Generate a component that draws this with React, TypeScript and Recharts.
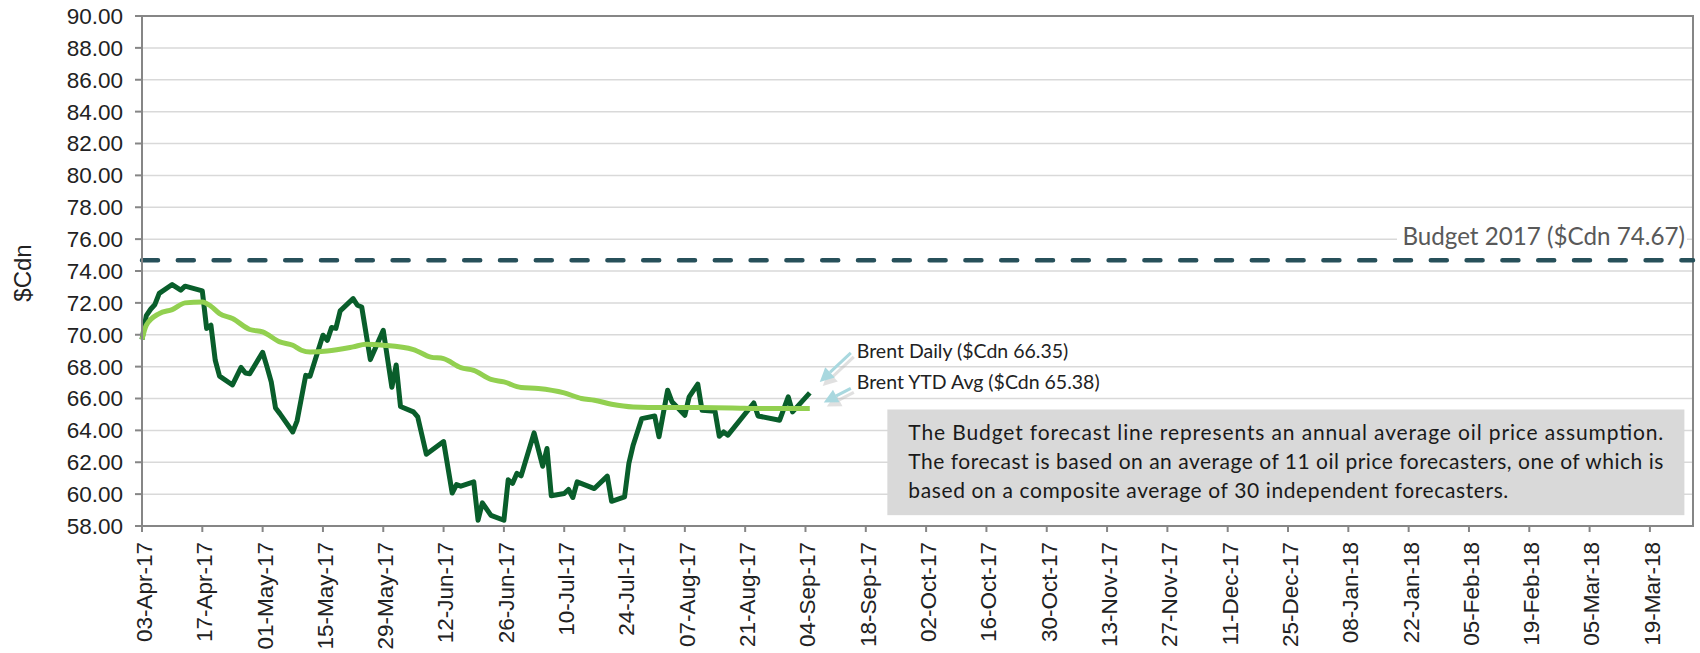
import React from "react";
import {
  LineChart,
  Line,
  XAxis,
  YAxis,
  CartesianGrid,
  ReferenceLine,
  ReferenceArea,
  ReferenceDot,
} from "recharts";

// Brent daily price ($Cdn), business days
const dailyDates = [
  "2017-04-03", "2017-04-04", "2017-04-05", "2017-04-06", "2017-04-07", "2017-04-10",
  "2017-04-12", "2017-04-13", "2017-04-17", "2017-04-18", "2017-04-19", "2017-04-20",
  "2017-04-21", "2017-04-24", "2017-04-26", "2017-04-27", "2017-04-28", "2017-05-01",
  "2017-05-02", "2017-05-03", "2017-05-04", "2017-05-05", "2017-05-08", "2017-05-09",
  "2017-05-11", "2017-05-12", "2017-05-15", "2017-05-16", "2017-05-17", "2017-05-18",
  "2017-05-19", "2017-05-22", "2017-05-23", "2017-05-24", "2017-05-26", "2017-05-29",
  "2017-05-31", "2017-06-01", "2017-06-02", "2017-06-05", "2017-06-06", "2017-06-08",
  "2017-06-12", "2017-06-14", "2017-06-15", "2017-06-16", "2017-06-19", "2017-06-20",
  "2017-06-21", "2017-06-23", "2017-06-26", "2017-06-27", "2017-06-28", "2017-06-29",
  "2017-06-30", "2017-07-03", "2017-07-05", "2017-07-06", "2017-07-07", "2017-07-10",
  "2017-07-11", "2017-07-12", "2017-07-13", "2017-07-17", "2017-07-20", "2017-07-21",
  "2017-07-24", "2017-07-25", "2017-07-26", "2017-07-28", "2017-07-31", "2017-08-01",
  "2017-08-03", "2017-08-04", "2017-08-07", "2017-08-08", "2017-08-10", "2017-08-11",
  "2017-08-14", "2017-08-15", "2017-08-16", "2017-08-17", "2017-08-23", "2017-08-24",
  "2017-08-29", "2017-08-31", "2017-09-01", "2017-09-05",
];
const dailyValues = [
  69.7, 71.2, 71.6, 71.9, 72.6, 73.15,
  72.8, 73.05, 72.75, 70.4, 70.6, 68.4,
  67.4, 66.85, 67.95, 67.6, 67.55, 68.9,
  68.0, 67.04, 65.4, 65.05, 63.9, 64.6,
  67.45, 67.4, 69.97, 69.65, 70.45, 70.4,
  71.5, 72.27, 71.85, 71.74, 68.44, 70.28,
  66.7, 68.1, 65.5, 65.16, 64.84, 62.5,
  63.3, 60.07, 60.6, 60.5, 60.77, 58.36,
  59.45, 58.67, 58.36, 60.9, 60.67, 61.3,
  61.15, 63.84, 61.75, 62.86, 59.9, 60.04,
  60.29, 59.79, 60.77, 60.35, 61.13, 59.55,
  59.82, 61.92, 63.07, 64.74, 64.9, 63.6,
  66.52, 65.8, 64.95, 66.1, 66.9, 65.26,
  65.2, 63.63, 63.9, 63.7, 65.72, 64.9,
  64.64, 66.1, 65.16, 66.35,
];

// Brent year-to-date average ($Cdn)
const ytdDates = [
  "2017-04-03", "2017-04-04", "2017-04-07", "2017-04-10", "2017-04-13", "2017-04-17",
  "2017-04-19", "2017-04-21", "2017-04-24", "2017-04-28", "2017-05-01", "2017-05-05",
  "2017-05-08", "2017-05-10", "2017-05-12", "2017-05-16", "2017-05-22", "2017-05-25",
  "2017-05-29", "2017-06-05", "2017-06-09", "2017-06-12", "2017-06-16", "2017-06-19",
  "2017-06-23", "2017-06-26", "2017-06-30", "2017-07-04", "2017-07-10", "2017-07-14",
  "2017-07-17", "2017-07-21", "2017-07-26", "2017-08-02", "2017-08-10", "2017-08-18",
  "2017-08-25", "2017-09-05",
];
const ytdValues = [
  69.7, 70.6, 71.33, 71.58, 72.0, 72.06,
  71.79, 71.33, 71.02, 70.33, 70.18, 69.55,
  69.34, 69.03, 68.92, 68.98, 69.24, 69.4,
  69.34, 69.07, 68.6, 68.5, 67.94, 67.77,
  67.2, 67.04, 66.69, 66.63, 66.35, 66.0,
  65.89, 65.64, 65.47, 65.43, 65.43, 65.41,
  65.37, 65.38,
];

const xTickLabels = [
  "03-Apr-17", "17-Apr-17", "01-May-17", "15-May-17", "29-May-17", "12-Jun-17",
  "26-Jun-17", "10-Jul-17", "24-Jul-17", "07-Aug-17", "21-Aug-17", "04-Sep-17",
  "18-Sep-17", "02-Oct-17", "16-Oct-17", "30-Oct-17", "13-Nov-17", "27-Nov-17",
  "11-Dec-17", "25-Dec-17", "08-Jan-18", "22-Jan-18", "05-Feb-18", "19-Feb-18",
  "05-Mar-18", "19-Mar-18",
];
const yTicks = [58, 60, 62, 64, 66, 68, 70, 72, 74, 76, 78, 80, 82, 84, 86, 88, 90];

const axisStart = "2017-04-03";
const axisEnd = "2018-03-29";
const budget2017 = 74.67;

const noteLines = [
  "The Budget forecast line represents an annual average oil price assumption.",
  "The forecast is based on an average of 11 oil price forecasters, one of which is",
  "based on a composite average of 30 independent forecasters.",
];
const noteLineWidths = [755, 755, 600];
const noteBox = { from: "2017-09-23", to: "2018-03-27", low: 58.68, high: 65.31 };

const MONTHS = ["Jan", "Feb", "Mar", "Apr", "May", "Jun", "Jul", "Aug", "Sep", "Oct", "Nov", "Dec"];
const DAY_MS = 86400000;

function isoToUtc(s: string) {
  const [y, m, d] = s.split("-").map(Number);
  return Date.UTC(y, m - 1, d);
}
const START = isoToUtc(axisStart);
const dayOf = (s: string) => Math.round((isoToUtc(s) - START) / DAY_MS);
const labelDay = (s: string) => {
  const [d, mon, y] = s.split("-");
  return Math.round((Date.UTC(2000 + Number(y), MONTHS.indexOf(mon), Number(d)) - START) / DAY_MS);
};

const rowMap = new Map<number, { day: number; daily?: number; ytd?: number }>();
dailyDates.forEach((d, i) => {
  const k = dayOf(d);
  rowMap.set(k, { ...(rowMap.get(k) || { day: k }), daily: dailyValues[i] });
});
ytdDates.forEach((d, i) => {
  const k = dayOf(d);
  rowMap.set(k, { ...(rowMap.get(k) || { day: k }), ytd: ytdValues[i] });
});
const rows = Array.from(rowMap.values()).sort((a, b) => a.day - b.day);

const xTicks = xTickLabels.map(labelDay);
const tickNameByDay = new Map(xTicks.map((d, i) => [d, xTickLabels[i]]));

const lastDaily = dailyValues[dailyValues.length - 1];
const lastDailyDay = dayOf(dailyDates[dailyDates.length - 1]);
const lastYtd = ytdValues[ytdValues.length - 1];
const lastYtdDay = dayOf(ytdDates[ytdDates.length - 1]);

const AXIS = "#868686";
const GRID = "#d9d9d9";
const DARK = "#095e2b";
const LIGHT = "#92d050";
const ARROW = "#a9d8df";
const LABEL_FONT = "Lato, 'Open Sans', sans-serif";

function XTick(props: any) {
  const { x, y, payload } = props;
  return (
    <text
      transform={`translate(${x + 2},${y + 8}) rotate(-90)`}
      textAnchor="end"
      dy="0.35em"
      fontSize={22.5}
      fontFamily="'Liberation Sans', Arial, sans-serif"
      fill="#222"
    >
      {tickNameByDay.get(payload.value)}
    </text>
  );
}

function Arrow({ x1, y1, x2, y2 }: { x1: number; y1: number; x2: number; y2: number }) {
  const a = Math.atan2(y2 - y1, x2 - x1);
  const len = 14;
  const w = 7;
  const bx = x2 - len * Math.cos(a);
  const by = y2 - len * Math.sin(a);
  const px = -Math.sin(a) * w;
  const py = Math.cos(a) * w;
  const head = (dx: number, dy: number) =>
    `${x2 + dx},${y2 + dy} ${bx + px + dx},${by + py + dy} ${bx - px + dx},${by - py + dy}`;
  return (
    <g>
      <line x1={x1 + 3} y1={y1 + 4} x2={bx + 3} y2={by + 4} stroke="#bbb" strokeWidth={3} opacity={0.45} />
      <polygon points={head(3, 4)} fill="#bbb" opacity={0.45} />
      <line x1={x1} y1={y1} x2={bx} y2={by} stroke={ARROW} strokeWidth={3} />
      <polygon points={head(0, 0)} fill={ARROW} />
    </g>
  );
}

function TagShape(props: any, text: string, tip: [number, number], start: [number, number], textPos: [number, number]) {
  const { cx, cy } = props;
  if (cx == null || cy == null) return <g />;
  return (
    <g>
      <Arrow x1={cx + start[0]} y1={cy + start[1]} x2={cx + tip[0]} y2={cy + tip[1]} />
      <text x={cx + textPos[0]} y={cy + textPos[1]} fontSize={19.5} fontFamily={LABEL_FONT} fill="#222">
        {text}
      </text>
    </g>
  );
}

function BudgetLabel(props: any) {
  const vb = props.viewBox || {};
  const right = (vb.x || 0) + (vb.width || 0);
  const ly = vb.y || 0;
  return (
    <g>
      <rect x={right - 296} y={ly - 36} width={290} height={30} fill="#fff" />
      <text
        x={right - 8}
        y={ly - 15}
        textAnchor="end"
        fontSize={24.2}
        fontFamily={LABEL_FONT}
        fill="#595959"
      >
        {`Budget 2017 ($Cdn ${budget2017.toFixed(2)})`}
      </text>
    </g>
  );
}

function NoteShape(props: any) {
  const { x, y, width, height } = props;
  return (
    <g>
      <rect x={x} y={y} width={width} height={height} fill="#d9d9d9" />
      {noteLines.map((t, i) => (
        <text
          key={i}
          x={x + 21}
          y={y + 31 + i * 29}
          fontSize={21}
          fontFamily={LABEL_FONT}
          fill="#1a1a1a"
          textLength={noteLineWidths[i]}
          lengthAdjust="spacing"
        >
          {t}
        </text>
      ))}
    </g>
  );
}

function YLabel(props: any) {
  const vb = props.viewBox || { y: 16, height: 510 };
  const cy = vb.y + vb.height / 2 + 2;
  const cx = 23;
  return (
    <text
      x={cx}
      y={cy}
      transform={`rotate(-90, ${cx}, ${cy})`}
      textAnchor="middle"
      dy="0.35em"
      fontSize={24}
      fontFamily="'Liberation Sans', Arial, sans-serif"
      fill="#222"
    >
      $Cdn
    </text>
  );
}

export default function App() {
  const endDay = dayOf(axisEnd);
  return (
    <div style={{ position: "absolute", left: 0, top: 0, background: "#fff" }}>
      <LineChart
        width={1700}
        height={653}
        data={rows}
        margin={{ top: 16, right: 7, bottom: 0, left: 0 }}
      >
        <CartesianGrid vertical={false} stroke={GRID} strokeWidth={1.5} />
        <ReferenceArea
          x1={0}
          x2={endDay}
          y1={58}
          y2={90}
          fill="none"
          stroke={AXIS}
          strokeWidth={2}
        />
        <XAxis
          dataKey="day"
          type="number"
          domain={[0, endDay]}
          ticks={xTicks}
          interval={0}
          height={127}
          tick={<XTick />}
          tickSize={6}
          axisLine={{ stroke: AXIS, strokeWidth: 2 }}
          tickLine={{ stroke: AXIS, strokeWidth: 2 }}
        />
        <YAxis
          type="number"
          domain={[58, 90]}
          ticks={yTicks}
          interval={0}
          width={142}
          tickSize={7}
          tickMargin={12}
          tickFormatter={(v: number) => v.toFixed(2)}
          tick={{ fontSize: 22.5, fill: "#222", fontFamily: "'Liberation Sans', Arial, sans-serif" }}
          axisLine={{ stroke: AXIS, strokeWidth: 2 }}
          tickLine={{ stroke: AXIS, strokeWidth: 2 }}
          label={<YLabel />}
        />
        <ReferenceArea
          x1={dayOf(noteBox.from)}
          x2={dayOf(noteBox.to)}
          y1={noteBox.low}
          y2={noteBox.high}
          shape={<NoteShape />}
        />
        <ReferenceLine
          y={budget2017}
          stroke="#27505a"
          strokeWidth={4.5}
          strokeDasharray="16 19.8"
          strokeLinecap="round"
          label={<BudgetLabel />}
        />
        <Line
          dataKey="daily"
          stroke={DARK}
          strokeWidth={5}
          dot={false}
          connectNulls
          strokeLinejoin="round"
          isAnimationActive={false}
        />
        <Line
          dataKey="ytd"
          type="monotone"
          stroke={LIGHT}
          strokeWidth={5}
          dot={false}
          connectNulls
          isAnimationActive={false}
        />
        <ReferenceDot
          x={lastDailyDay}
          y={lastDaily}
          r={0}
          shape={(p: any) =>
            TagShape(p, `Brent Daily ($Cdn ${lastDaily.toFixed(2)})`, [10, -11], [41, -40], [47, -35])
          }
        />
        <ReferenceDot
          x={lastYtdDay}
          y={lastYtd}
          r={0}
          shape={(p: any) =>
            TagShape(p, `Brent YTD Avg ($Cdn ${lastYtd.toFixed(2)})`, [14, -6], [41, -20], [47, -19])
          }
        />
      </LineChart>
    </div>
  );
}
